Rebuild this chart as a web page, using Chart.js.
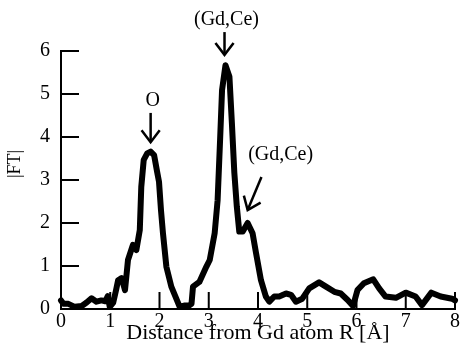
<!DOCTYPE html>
<html>
<head>
<meta charset="utf-8">
<script src="https://cdn.jsdelivr.net/npm/chart.js@4"></script>
<style>
  body { margin: 0; background: #fff; }
  #wrap { width: 461px; height: 346px; }
</style>
</head>
<body>
<div id="wrap"><canvas id="ft"></canvas></div>
<script>
  // distance R [Å] and |FT|
  const rValues = [0.00, 0.05, 0.15, 0.28, 0.42, 0.52, 0.62, 0.72, 0.82, 0.90, 0.95, 0.99, 1.06, 1.12, 1.16, 1.23, 1.30, 1.36, 1.46, 1.53,
    1.60, 1.63, 1.68, 1.75, 1.82, 1.89, 1.95, 1.99, 2.03, 2.07, 2.14, 2.24, 2.32, 2.41, 2.50, 2.60, 2.65, 2.68, 2.81, 2.95,
    3.02, 3.12, 3.18, 3.23, 3.27, 3.34, 3.42, 3.47, 3.52, 3.57, 3.62, 3.69, 3.79, 3.89, 3.96, 4.06, 4.16, 4.23, 4.33, 4.43,
    4.57, 4.67, 4.77, 4.90, 5.04, 5.24, 5.38, 5.55, 5.68, 5.82, 5.93, 6.02, 6.15, 6.34, 6.46, 6.59, 6.80, 7.00, 7.20, 7.33,
    7.52, 7.71, 7.94, 8.00];
  const ftValues = [0.20, 0.12, 0.12, 0.05, 0.07, 0.15, 0.25, 0.17, 0.20, 0.18, 0.30, 0.05, 0.15, 0.45, 0.67, 0.72, 0.44, 1.14, 1.49, 1.37,
    1.84, 2.84, 3.47, 3.62, 3.66, 3.58, 3.20, 2.96, 2.30, 1.77, 0.98, 0.52, 0.30, 0.05, 0.08, 0.08, 0.12, 0.52, 0.63, 0.98,
    1.14, 1.76, 2.53, 3.93, 5.09, 5.67, 5.40, 4.32, 3.16, 2.38, 1.80, 1.80, 2.00, 1.76, 1.30, 0.67, 0.29, 0.17, 0.29, 0.29,
    0.36, 0.33, 0.17, 0.24, 0.48, 0.62, 0.52, 0.40, 0.36, 0.21, 0.07, 0.44, 0.60, 0.69, 0.48, 0.29, 0.26, 0.38, 0.29, 0.09,
    0.38, 0.29, 0.24, 0.20];

  // tick positions that get inward tick marks
  const xTickValues = [1, 2, 3, 4, 5, 6, 7, 8];
  const yTickValues = [1, 2, 3, 4, 5, 6];

  // peak labels: text, label position, arrow tail and tip (data units)
  const peakLabels = ['O', '(Gd,Ce)', '(Gd,Ce)'];
  const labelAt = [[1.86, 4.84], [3.36, 6.72], [4.46, 3.58]];
  const arrowFrom = [[1.82, 4.56], [3.32, 6.44], [4.07, 3.07]];
  const arrowTo = [[1.82, 3.88], [3.32, 5.91], [3.79, 2.30]];

  const serif = '"Liberation Serif", "Times New Roman", serif';

  const points = rValues.map((r, i) => ({ x: r, y: ftValues[i] }));

  const extras = {
    id: 'extras',
    afterDraw(chart) {
      const c = chart.ctx;
      const xs = chart.scales.x, ys = chart.scales.y;
      const left = xs.getPixelForValue(0), bottom = ys.getPixelForValue(0);
      c.save();
      c.fillStyle = '#000';
      c.strokeStyle = '#000';
      // inward tick marks
      yTickValues.forEach(v => {
        const py = ys.getPixelForValue(v);
        c.fillRect(left, py - 1, 18, 2);
      });
      xTickValues.forEach(v => {
        const px = xs.getPixelForValue(v);
        c.fillRect(px - 1, bottom - 17, 2, 17);
      });
      // peak labels and arrows
      c.font = '20px ' + serif;
      c.textAlign = 'center';
      c.textBaseline = 'middle';
      peakLabels.forEach((txt, i) => {
        c.fillText(txt, xs.getPixelForValue(labelAt[i][0]), ys.getPixelForValue(labelAt[i][1]));
        const x0 = xs.getPixelForValue(arrowFrom[i][0]), y0 = ys.getPixelForValue(arrowFrom[i][1]);
        const x1 = xs.getPixelForValue(arrowTo[i][0]), y1 = ys.getPixelForValue(arrowTo[i][1]);
        const ang = Math.atan2(y1 - y0, x1 - x0);
        c.lineWidth = 2.5;
        c.beginPath(); c.moveTo(x0, y0); c.lineTo(x1, y1); c.stroke();
        c.beginPath();
        c.moveTo(x1 - 15 * Math.cos(ang - 0.65), y1 - 15 * Math.sin(ang - 0.65));
        c.lineTo(x1, y1);
        c.lineTo(x1 - 15 * Math.cos(ang + 0.65), y1 - 15 * Math.sin(ang + 0.65));
        c.stroke();
      });
      // y axis title
      c.font = '18px ' + serif;
      c.translate(15, 164);
      c.rotate(-Math.PI / 2);
      c.fillText('|FT|', 0, 0);
      c.restore();
    }
  };

  new Chart(document.getElementById('ft'), {
    type: 'line',
    data: {
      datasets: [{
        data: points,
        borderColor: '#000',
        borderWidth: 6,
        borderJoinStyle: 'round',
        borderCapStyle: 'round',
        pointRadius: 0,
        tension: 0,
        fill: false,
        clip: false
      }]
    },
    options: {
      responsive: true,
      maintainAspectRatio: false,
      animation: false,
      layout: { padding: { top: 51, right: 5, left: 0, bottom: 0 } },
      plugins: { legend: { display: false }, tooltip: { enabled: false } },
      scales: {
        x: {
          type: 'linear',
          min: 0,
          max: 8,
          afterFit(s) { s.height = 37; },
          grid: { display: false, drawTicks: false },
          border: { display: true, color: '#000', width: 2 },
          ticks: { stepSize: 1, padding: 1, color: '#000', maxRotation: 0, font: { family: serif, size: 20 } },
          title: {
            display: true,
            text: 'Distance from Gd atom R [Å]',
            color: '#000',
            padding: 0,
            font: { family: serif, size: 22, lineHeight: 1.2 }
          }
        },
        y: {
          min: 0,
          max: 6,
          afterFit(s) { s.width = 61; },
          grid: { display: false, drawTicks: false },
          border: { display: true, color: '#000', width: 2 },
          ticks: { stepSize: 1, padding: 11, color: '#000', font: { family: serif, size: 20 } }
        }
      }
    },
    plugins: [extras]
  });
</script>
</body>
</html>
